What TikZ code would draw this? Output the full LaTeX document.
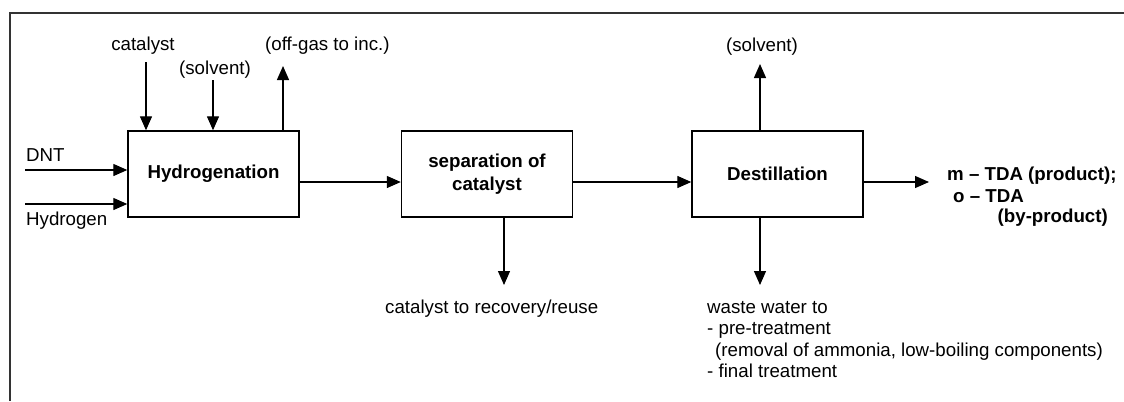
\documentclass[tikz,border=0pt]{standalone}
\usepackage{fontspec}
\setmainfont{Liberation Sans}
\usetikzlibrary{arrows.meta}
\begin{document}
\begin{tikzpicture}[x=1bp,y=-1bp,
  txt/.style={inner sep=0pt, font=\fontsize{18.7bp}{21.5bp}\selectfont},
  btxt/.style={inner sep=0pt, font=\fontsize{18.7bp}{21.5bp}\selectfont\bfseries},
  box/.style={draw, line width=1.4bp, minimum width=171bp, minimum height=86bp, inner sep=0pt, align=center, font=\fontsize{18.7bp}{23bp}\selectfont\bfseries},
  flow/.style={line width=1.3bp, -{Triangle[length=14bp,width=12bp]}},
  frame/.style={line width=2bp, draw=black!80}]
\useasboundingbox (0,0) rectangle (1124,401);
\draw[frame] (9.5,401) -- (9.5,12.5) -- (1124,12.5);

% process boxes
\node[box] (h) at (213.5,174) {Hydrogenation};
\node[box] (s) at (487,174) {separation of\\catalyst};
\node[box] (d) at (777.5,174) {Destillation};

% labels
\node[txt, anchor=base] (lcat) at (143,50) {catalyst};
\node[txt, anchor=base] (lsol) at (215,74) {(solvent)};
\node[txt, anchor=base west] (loff) at (265,50) {(off-gas to inc.)};
\node[txt, anchor=base west] (ldnt) at (26,161) {DNT};
\node[txt, anchor=base west] (lhyd) at (26,225) {Hydrogen};
\node[txt, anchor=base] (lsol2) at (762,51) {(solvent)};
\node[btxt, anchor=base west] (p1) at (947,180) {m – TDA (product);};
\node[btxt, anchor=base west] (p2) at (953,202) {o – TDA};
\node[btxt, anchor=base east] (p3) at (1108,222) {(by-product)};
\node[txt, anchor=base west] (lrec) at (385,313) {catalyst to recovery/reuse};
\node[txt, anchor=base west] (w1) at (707,313) {waste water to};
\node[txt, anchor=base west] (w2) at (707,334.5) {- pre-treatment};
\node[txt, anchor=base west] (w3) at (715,356) {(removal of ammonia, low-boiling components)};
\node[txt, anchor=base west] (w4) at (707,377.5) {- final treatment};

% free ends of connectors
\coordinate (cin) at (146,62);
\coordinate (sin) at (213,80);
\coordinate (gout) at (283,66);
\coordinate (dntin) at (25,170);
\coordinate (h2in) at (25,204);
\coordinate (fl) at (0,182);
\coordinate (sol2) at (760,64);
\coordinate (prod) at (929,182);
\coordinate (rec) at (504,285);
\coordinate (ww) at (760,285);

% connectors
\draw[flow] (cin) -- (cin |- h.north);
\draw[flow] (sin) -- (sin |- h.north);
\draw[flow] (gout |- h.north) -- (gout);
\draw[flow] (dntin) -- (dntin -| h.west);
\draw[flow] (h2in) -- (h2in -| h.west);
\draw[flow] (h.east |- fl) -- (s.west |- fl);
\draw[flow] (s.east |- fl) -- (d.west |- fl);
\draw[flow] (d.east |- fl) -- (prod);
\draw[flow] (d.north -| sol2) -- (sol2);
\draw[flow] (s.south -| rec) -- (rec);
\draw[flow] (d.south -| ww) -- (ww);
\end{tikzpicture}
\end{document}
